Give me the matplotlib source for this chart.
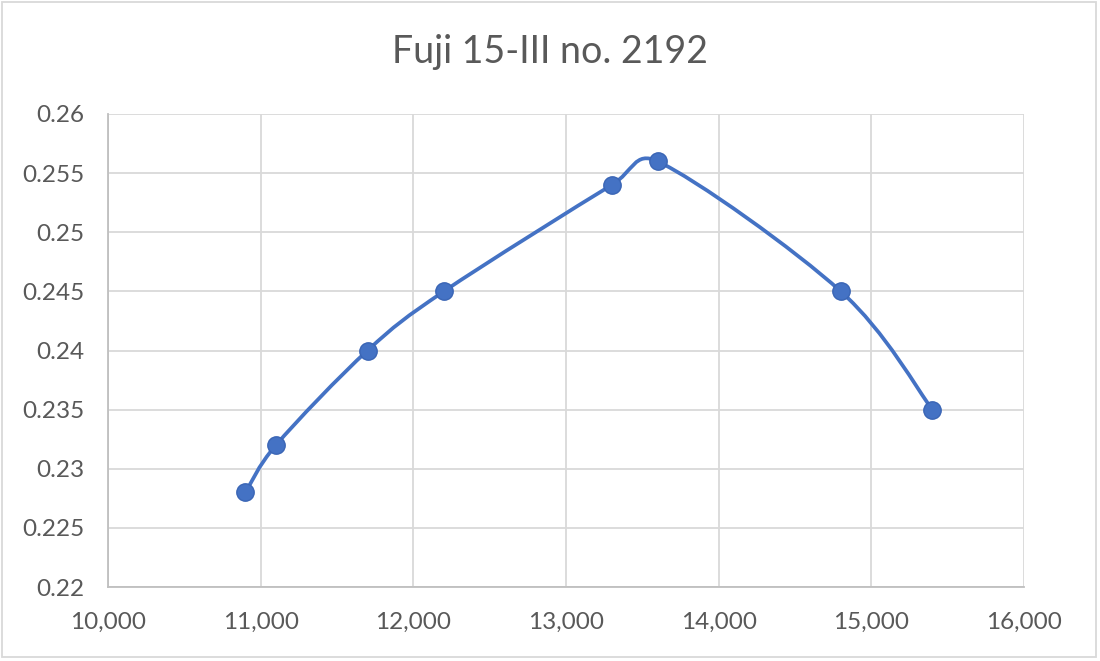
import matplotlib
matplotlib.use("Agg")
import matplotlib.pyplot as plt
from matplotlib.path import Path
from matplotlib.patches import PathPatch, Rectangle
from matplotlib.ticker import FuncFormatter, MultipleLocator
import numpy as np

title = "Fuji 15-III no. 2192"
x_vals = [10900, 11100, 11700, 12200, 13300, 13600, 14800, 15400]
y_vals = [0.228, 0.232, 0.240, 0.245, 0.254, 0.256, 0.245, 0.235]

color = "#4472C4"
txt = "#595959"
plt.rcParams['font.family'] = ['Lato', 'DejaVu Sans']

fig = plt.figure(figsize=(11.0, 6.61), dpi=100)
ax = fig.add_axes([108/1100, 1-587/661, (1024-108)/1100, (587-114)/661])

ax.set_xlim(10000, 16000)
ax.set_ylim(0.22, 0.26)
ax.xaxis.set_major_locator(MultipleLocator(1000))
ax.yaxis.set_major_locator(MultipleLocator(0.005))
ax.xaxis.set_major_formatter(FuncFormatter(lambda v, p: f"{int(round(v)):,}"))
ax.yaxis.set_major_formatter(FuncFormatter(lambda v, p: f"{v:.3f}".rstrip('0').rstrip('.') if v else "0"))
ax.grid(True, color="#D9D9D9", linewidth=1.3)
ax.set_axisbelow(True)
for s in ['top', 'right']:
    ax.spines[s].set_visible(False)
for s in ['left', 'bottom']:
    ax.spines[s].set_color("#BFBFBF")
    ax.spines[s].set_linewidth(1.3)
ax.tick_params(length=0, labelsize=17.5, colors=txt)
ax.tick_params(axis='y', pad=17)
ax.tick_params(axis='x', pad=18)

# Excel-like smoothed line: cubic Bezier with Catmull-Rom tangents,
# arm lengths limited (in pixel space) to half the segment length
sx = 916 / 6000.0
sy = 473 / 0.04
P = np.column_stack([np.array(x_vals) * sx, np.array(y_vals) * sy]).astype(float)
n = len(P)

def cap(arm, seg):
    L = np.hypot(*arm)
    m = np.hypot(*seg) / 2.0
    return arm * (m / L) if L > m else arm

verts = [tuple(P[0])]
codes = [Path.MOVETO]
for i in range(n - 1):
    p0 = P[i - 1] if i > 0 else P[i]
    p1 = P[i]
    p2 = P[i + 1]
    p3 = P[i + 2] if i + 2 < n else P[i + 1]
    seg = p2 - p1
    c1 = p1 + cap((p2 - p0) / 6.0, seg)
    c2 = p2 - cap((p3 - p1) / 6.0, seg)
    verts += [tuple(c1), tuple(c2), tuple(p2)]
    codes += [Path.CURVE4] * 3
verts = [(vx / sx, vy / sy) for vx, vy in verts]
ax.add_patch(PathPatch(Path(verts, codes), facecolor='none', edgecolor=color,
                       linewidth=2.7, capstyle='round', joinstyle='round', zorder=3))
ax.plot(x_vals, y_vals, linestyle='none', marker='o', markersize=12.5,
        markerfacecolor=color, markeredgecolor="#3A65B5", markeredgewidth=1, zorder=4)

fig.text(550/1100, 1-52/661, title, ha='center', va='center', fontsize=27, color=txt)
fig.patches.append(Rectangle((2/1100, 4/661), 1094/1100, 655/661, transform=fig.transFigure,
                             fill=False, edgecolor="#D9D9D9", linewidth=1.3))

fig.savefig("out.png", dpi=100)
